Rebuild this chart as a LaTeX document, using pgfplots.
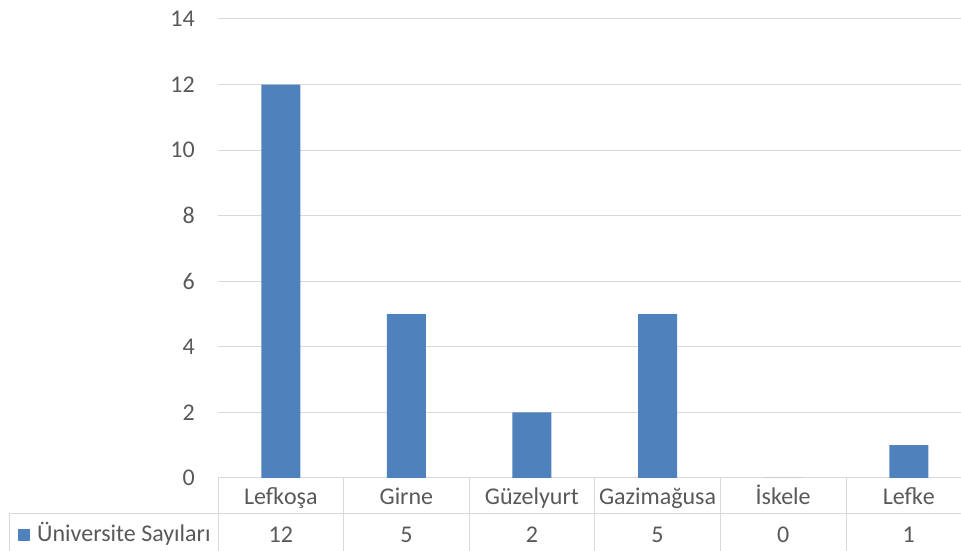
\documentclass[border=0pt]{standalone}
\usepackage{fontspec}
\setmainfont{Carlito}
\usepackage{pgfplots}
\usepackage{pgfplotstable}
\pgfplotsset{compat=1.18}
\definecolor{barblue}{HTML}{4F81BD}
\definecolor{gridgray}{HTML}{D9D9D9}
\definecolor{textgray}{HTML}{595959}

% Üniversite sayıları (şehir sırası: 0..5)
\pgfplotstableread{
x count
0 12
1 5
2 2
3 5
4 0
5 1
}\unidata

\begin{document}
\begin{tikzpicture}[x=1pt, y=1pt]
\useasboundingbox (0,0) rectangle (961,551);
\begin{axis}[
    at={(218pt,73pt)}, anchor=south west,
    scale only axis, width=743pt, height=459pt,
    xmin=-0.5, xmax=5.416, ymin=0, ymax=14,
    ytick={0,2,...,14},
    xtick={0,...,5},
    xticklabels={Lefkoşa,Girne,Güzelyurt,Gazimağusa,İskele,Lefke},
    axis line style={draw=none},
    tick style={draw=none},
    ymajorgrids,
    major grid style={gridgray, line width=1pt},
    ticklabel style={font=\fontsize{24}{28}\selectfont, text=textgray},
    /pgf/number format/assume math mode=true,
    yticklabel style={anchor=east, inner sep=0pt, xshift=-23pt},
    xticklabel style={anchor=base, inner sep=0pt, yshift=-27pt},
    clip=false,
]
\addplot[ybar, bar width=39pt, fill=barblue, draw=none] table[x=x, y=count] {\unidata};
% değer satırı (veri tablosu)
\addplot[draw=none, mark=none, nodes near coords, point meta=\thisrow{count},
    nodes near coords style={anchor=base, inner sep=0pt, yshift=-65pt,
        font=\fontsize{24}{28}\selectfont, text=textgray}]
    table[x=x, y expr=0] {\unidata};
\end{axis}
% tablo çizgileri
\foreach \k in {0,...,5}
    \draw[gridgray, line width=1pt] ({218+\k*125.6},73) -- ({218+\k*125.6},0);
\draw[gridgray, line width=1pt] (9,37) -- (9,0);
\draw[gridgray, line width=1pt] (9,37) -- (961,37);
\fill[barblue] (18,10) rectangle (30,22);
\node[anchor=base west, inner sep=0pt, text=textgray, font=\fontsize{24}{28}\selectfont]
    at (37,9) {Üniversite Sayıları};
\end{tikzpicture}
\end{document}
